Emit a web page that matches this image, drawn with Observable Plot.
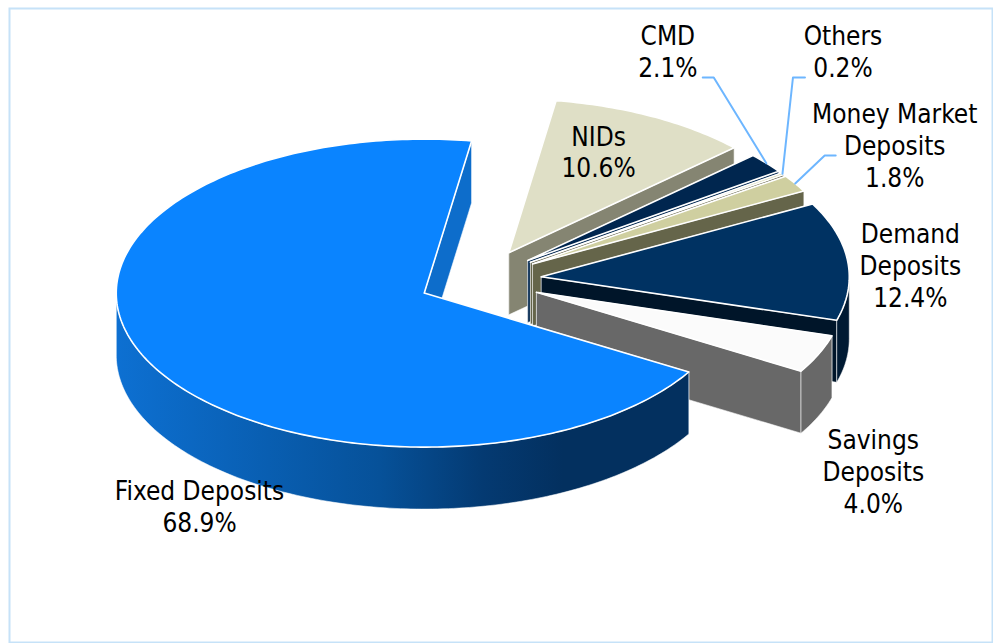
<!DOCTYPE html>
<html>
<head>
<meta charset="utf-8">
<style>
  html, body { margin: 0; padding: 0; background: #fff; }
  svg { display: block; }
</style>
<script src="https://cdn.jsdelivr.net/npm/d3@7"></script>
<script src="https://cdn.jsdelivr.net/npm/@observablehq/plot@0.6"></script>
</head>
<body>
<div id="chart"></div>
<script>
// Deposit mix, percent of total, clockwise from the first cut.
const categories = ["Fixed Deposits", "NIDs", "CMD", "Others", "Money Market Deposits", "Demand Deposits", "Savings Deposits"];
const shares = [68.9, 10.6, 2.1, 0.2, 1.8, 12.4, 4.0];
const labelLines = [
  ["Fixed Deposits", "68.9%"],
  ["NIDs", "10.6%"],
  ["CMD", "2.1%"],
  ["Others", "0.2%"],
  ["Money Market", "Deposits", "1.8%"],
  ["Demand", "Deposits", "12.4%"],
  ["Savings", "Deposits", "4.0%"]
];

// Slice paint colours: top face, cut walls, rim wall.
const topColors = ["#0a84ff", "#dfdfc6", "#00264f", "#cfcfa0", "#cfcfa0", "#003262", "#fbfbfb"];
const cutColors = ["#0d6dcb", "#858572", "#00264f", "#65654a", "#65654a", "#001529", "#686868"];
const rimColors = ["url(#rimFixed)", "#858572", "#00264f", "#65654a", "#65654a", "#001a33", "#686868"];

// Pie geometry, in units of the horizontal and vertical radius.
const firstCut = 120.8;    // degrees clockwise from twelve o'clock
const explode = 0.2;
const depth = 62 / 154;
const width = 993, height = 643;
const cx = 479.5, cy = 279.5, rx = 308, ry = 154;

// Label centres relative to each slice's rim point, in pixels.
const labelNudge = [[54, 149], [-54.5, 36.6], [-98.5, -110.7], [60.5, -120.8], [99.5, -36.9], [62.7, 5.6], [54.6, 118.6]];
const lineStep = 31.7;
// Leader elbow and end relative to the rim point, for the slices that have one.
const leaderEnd = {
  2: [[-52.6, -85.7], [-63.6, -85.7]],
  3: [[10.5, -96.3], [22.5, -96.3]],
  4: [[29.5, -27.9], [40.5, -27.9]]
};

const rad = (deg) => (deg * Math.PI) / 180;
const rimPoint = (a, o) => [o[0] + Math.sin(rad(a)), o[1] - Math.cos(rad(a))];

let running = firstCut;
const slices = shares.map((share, i) => {
  const start = running;
  const end = start + (share / 100) * 360;
  running = end % 360;
  const mid = (start + end) / 2;
  const apex = [explode * Math.sin(rad(mid)), -explode * Math.cos(rad(mid))];
  return {i, start, end, mid, apex};
});

// Arc sampled every degree or so between two angles.
function arc(a0, a1, o) {
  const n = Math.max(2, Math.ceil(Math.abs(a1 - a0)));
  return d3.range(n + 1).map((k) => rimPoint(a0 + ((a1 - a0) * k) / n, o));
}
const lower = ([px, py]) => [px, py + depth];

const polygonMark = (pts, fill, strokeWidth, strokeOpacity = 1) =>
  Plot.line([...pts, pts[0]], {
    x: (d) => d[0],
    y: (d) => d[1],
    fill,
    stroke: "#fff",
    strokeWidth,
    strokeOpacity,
    strokeLinejoin: "round",
    curve: "linear"
  });

function sliceMarks(s) {
  const {i, start, end, apex} = s;
  const marks = [];
  // Both cut faces, then the rim that faces the viewer, then the top.
  for (const a of [start, end]) {
    const p = rimPoint(a, apex);
    marks.push(polygonMark([apex, p, lower(p), lower(apex)], cutColors[i], 0.8, 0.7));
  }
  const a0 = Math.max(start, 90);
  const a1 = Math.min(end, 270);
  if (a1 > a0) {
    const top = arc(a0, a1, apex);
    marks.push(polygonMark([...top, ...top.map(lower).reverse()], rimColors[i], 0.8, 0.7));
  }
  marks.push(polygonMark([apex, ...arc(start, end, apex)], topColors[i], 1.6));
  return marks;
}

// Small slices first so the later ones overlap them, the big wedge last.
const paintOrder = [...slices.slice(1), slices[0]];

const labelRows = slices.flatMap((s) => {
  const rim = rimPoint(s.mid, s.apex);
  const [dx, dy] = labelNudge[s.i];
  const lines = labelLines[s.i];
  return lines.map((text, k) => ({
    text,
    x: rim[0] + dx / rx,
    y: rim[1] + (dy + (k - (lines.length - 1) / 2) * lineStep) / ry
  }));
});

const leaderMarks = Object.entries(leaderEnd).map(([key, offsets]) => {
  const s = slices[+key];
  const rim = rimPoint(s.mid, s.apex);
  const pts = [rim, ...offsets.map(([dx, dy]) => [rim[0] + dx / rx, rim[1] + dy / ry])];
  return Plot.line(pts, {x: (d) => d[0], y: (d) => d[1], stroke: "#6db6ff", strokeWidth: 2, curve: "linear"});
});

const plot = Plot.plot({
  width,
  height,
  margin: 0,
  x: {domain: [-cx / rx, (width - cx) / rx], range: [0, width], axis: null},
  y: {domain: [-cy / ry, (height - cy) / ry], range: [0, height], axis: null},
  style: {background: "#fff"},
  marks: [
    () => {
      const defs = d3.create("svg:defs");
      const g = defs.append("linearGradient").attr("id", "rimFixed");
      [[0, "#0d70d2"], [0.46, "#065199"], [0.64, "#043a72"], [0.78, "#03305f"], [1, "#03305f"]].forEach(([o, c]) =>
        g.append("stop").attr("offset", o).attr("stop-color", c));
      return defs.node();
    },
    Plot.frame({stroke: "#c6e2f8", strokeWidth: 2, insetLeft: 9, insetTop: 8, insetRight: 1, insetBottom: 1}),
    ...paintOrder.flatMap(sliceMarks),
    ...leaderMarks,
    Plot.text(labelRows, {
      x: "x",
      y: "y",
      text: "text",
      fill: "#000",
      fontSize: 26,
      fontFamily: "'DejaVu Sans Condensed', 'DejaVu Sans', sans-serif",
      stroke: "none",
      textAnchor: "middle",
      lineAnchor: "middle"
    })
  ]
});
document.getElementById("chart").append(plot);
</script>
</body>
</html>
